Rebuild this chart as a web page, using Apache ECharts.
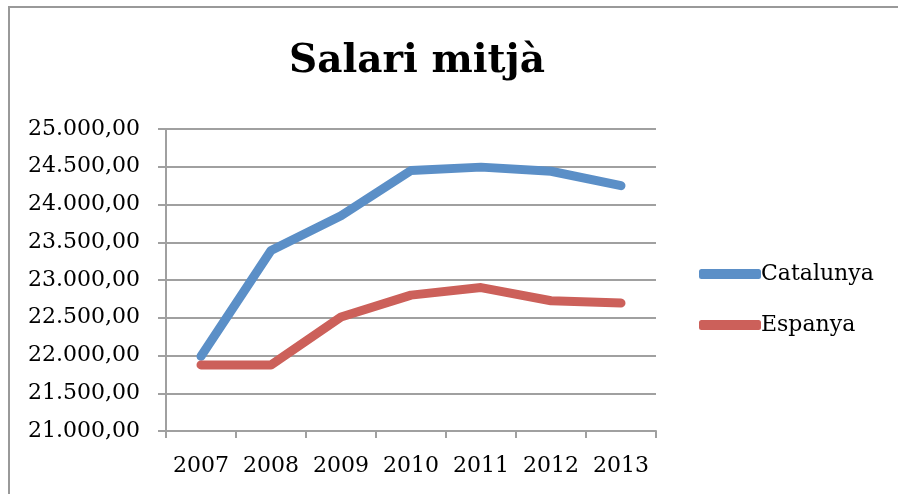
<!DOCTYPE html>
<html>
<head>
    <meta charset="utf-8">
    <title>Salari mitjà</title>
    <style>
        body { margin: 0; background: #fff; }
        #chart { width: 898px; height: 494px; }
    </style>
</head>
<body>
<div id="chart"></div>
<script src="https://cdn.jsdelivr.net/npm/echarts@6/dist/echarts.min.js"></script>
<script>
    // dades
    var years = ['2007', '2008', '2009', '2010', '2011', '2012', '2013'];
    var catalunya = [21990, 23390, 23850, 24450, 24495, 24440, 24250];
    var espanya = [21875, 21875, 22510, 22800, 22900, 22725, 22695];

    var FONT = 'DejaVu Serif';

    function fmt(v) {
        var s = String(Math.round(v));
        return s.replace(/\B(?=(\d{3})+(?!\d))/g, '.') + ',00';
    }

    var chart = echarts.init(document.getElementById('chart'));
    chart.setOption({
        animation: false,
        title: {
            text: 'Salari mitjà',
            left: 412,
            top: 37,
            textAlign: 'center',
            textStyle: {
                fontFamily: FONT,
                fontWeight: 'bold',
                fontSize: 39,
                color: '#000'
            }
        },
        // marc del gràfic (només es veuen la vora superior i l'esquerra)
        graphic: [{
            type: 'polyline',
            shape: { points: [[9, 600], [9, 7], [1000, 7]] },
            style: { fill: 'none', stroke: '#999', lineWidth: 2 },
            silent: true
        }],
        legend: {
            orient: 'vertical',
            left: 694,
            top: 258,
            itemWidth: 62,
            itemHeight: 10,
            itemGap: 29,
            icon: 'roundRect',
            textStyle: { fontFamily: FONT, fontSize: 22, color: '#000', padding: [0, 0, 0, -5] },
            data: ['Catalunya', 'Espanya']
        },
        grid: {
            left: 166,
            right: 242,
            top: 129,
            bottom: 63
        },
        xAxis: {
            type: 'category',
            data: years,
            boundaryGap: true,
            axisLine: { lineStyle: { color: '#a0a0a0', width: 2 } },
            axisTick: { show: true, interval: 0, length: 7, lineStyle: { color: '#a0a0a0', width: 2 } },
            axisLabel: { interval: 0, hideOverlap: false, fontFamily: FONT, fontSize: 22, color: '#000', margin: 24 }
        },
        yAxis: {
            type: 'value',
            min: 21000,
            max: 25000,
            interval: 500,
            axisLine: { show: true, lineStyle: { color: '#a0a0a0', width: 2 } },
            axisTick: { show: true, length: 8, lineStyle: { color: '#a0a0a0', width: 2 } },
            splitLine: { lineStyle: { color: '#a0a0a0', width: 2 } },
            axisLabel: {
                fontFamily: FONT, fontSize: 22, color: '#000', margin: 26,
                formatter: function (v) { return fmt(v); }
            }
        },
        series: [{
            name: 'Catalunya',
            type: 'line',
            data: catalunya,
            symbol: 'none',
            color: '#5b8fc7',
            lineStyle: { width: 9, cap: 'round', join: 'round' }
        }, {
            name: 'Espanya',
            type: 'line',
            data: espanya,
            symbol: 'none',
            color: '#cc605a',
            lineStyle: { width: 9, cap: 'round', join: 'round' }
        }]
    });
</script>
</body>
</html>
